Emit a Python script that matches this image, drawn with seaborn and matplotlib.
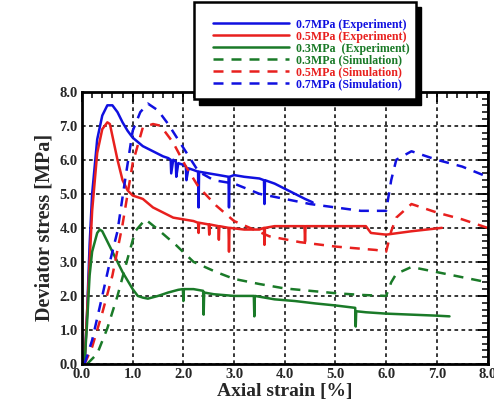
import numpy as np
import pandas as pd
import seaborn as sns
import matplotlib
matplotlib.use("Agg")
import matplotlib.pyplot as plt
from matplotlib.patches import Rectangle
from matplotlib.ticker import MultipleLocator

# ---------------- data ----------------
blue_exp_x = [0.05, 0.1, 0.15, 0.2, 0.3, 0.4, 0.5, 0.6, 0.7, 0.8, 0.9, 1.0, 1.2, 1.4, 1.6, 1.7, 1.75, 1.76, 1.8,
              1.85, 1.86, 1.9, 2.0, 2.05, 2.06, 2.1, 2.2, 2.29, 2.3, 2.31, 2.5, 2.7, 2.89, 2.9, 2.91, 3.0, 3.2,
              3.5, 3.59, 3.6, 3.61, 3.8, 4.0, 4.2, 4.4, 4.55]
blue_exp_y = [0.0, 1.5, 3.5, 5.0, 6.6, 7.3, 7.6, 7.6, 7.4, 7.1, 6.85, 6.65, 6.4, 6.25, 6.1, 6.05, 6.0, 5.6, 6.0,
              5.95, 5.5, 5.9, 5.85, 5.8, 5.4, 5.75, 5.7, 5.65, 4.6, 5.65, 5.6, 5.55, 5.5, 4.6, 5.5, 5.55, 5.5,
              5.45, 5.4, 4.7, 5.4, 5.3, 5.15, 5.0, 4.85, 4.75]

red_exp_x = [0.05, 0.1, 0.15, 0.2, 0.3, 0.4, 0.5, 0.55, 0.6, 0.7, 0.8, 0.9, 1.0, 1.2, 1.4, 1.6, 1.8, 2.0, 2.2,
             2.29, 2.3, 2.31, 2.5, 2.51, 2.52, 2.69, 2.7, 2.71, 2.89, 2.9, 2.91, 3.2, 3.5, 3.59, 3.6, 3.61, 3.8,
             4.0, 4.39, 4.4, 4.41, 5.0, 5.6, 5.7, 6.0, 6.5, 7.1]
red_exp_y = [0.0, 1.5, 3.0, 4.5, 6.2, 6.9, 7.1, 7.05, 6.7, 6.0, 5.4, 5.1, 4.95, 4.85, 4.6, 4.45, 4.3, 4.25, 4.2,
             4.15, 3.85, 4.15, 4.1, 3.8, 4.1, 4.05, 3.65, 4.05, 4.0, 3.3, 4.0, 3.95, 3.95, 4.0, 3.5, 4.0, 4.05,
             4.05, 4.05, 3.6, 4.05, 4.05, 4.05, 3.85, 3.8, 3.9, 4.0]

green_exp_x = [0.05, 0.1, 0.15, 0.2, 0.3, 0.35, 0.4, 0.5, 0.6, 0.7, 0.8, 0.9, 1.0, 1.1, 1.2, 1.3, 1.5, 1.7, 1.9,
               1.99, 2.0, 2.01, 2.2, 2.39, 2.4, 2.41, 2.6, 3.0, 3.39, 3.4, 3.41, 3.8, 4.2, 4.6, 5.0, 5.39, 5.4,
               5.41, 5.6, 6.0, 6.5, 7.0, 7.25]
green_exp_y = [0.0, 1.2, 2.6, 3.3, 3.85, 3.95, 3.9, 3.6, 3.3, 3.0, 2.7, 2.45, 2.2, 2.0, 1.95, 1.92, 2.0, 2.1, 2.18,
               2.2, 1.85, 2.2, 2.2, 2.15, 1.45, 2.1, 2.05, 2.0, 2.0, 1.4, 2.0, 1.9, 1.85, 1.78, 1.72, 1.65, 1.1,
               1.55, 1.52, 1.48, 1.45, 1.42, 1.4]

green_sim_x = [0.1, 0.3, 0.5, 0.7, 0.9, 1.05, 1.25, 1.5, 1.85, 2.2, 2.65, 3.0, 3.5, 4.0, 4.5, 5.0, 5.5, 6.0, 6.1,
               6.2, 6.5, 7.0, 7.5, 8.0]
green_sim_y = [0.0, 0.3, 1.05, 2.0, 3.1, 3.9, 4.25, 3.95, 3.5, 3.0, 2.7, 2.5, 2.35, 2.22, 2.15, 2.08, 2.03, 2.0, 2.4,
               2.65, 2.85, 2.7, 2.55, 2.4]

red_sim_x = [0.05, 0.2, 0.4, 0.6, 0.8, 1.0, 1.2, 1.4, 1.55, 1.8, 2.05, 2.3, 2.65, 3.0, 3.7, 4.3, 5.0, 5.8, 6.0,
             6.1, 6.2, 6.5, 7.0, 7.5, 8.0]
red_sim_y = [0.0, 0.5, 1.5, 2.6, 4.1, 5.9, 6.95, 7.05, 7.0, 6.5, 5.8, 5.2, 4.65, 4.2, 3.75, 3.58, 3.45, 3.35, 3.3,
             3.9, 4.3, 4.7, 4.45, 4.25, 4.0]

blue_sim_x = [0.05, 0.2, 0.4, 0.55, 0.7, 0.85, 1.0, 1.15, 1.3, 1.5, 1.7, 2.0, 2.3, 2.6, 3.0, 3.5, 4.0, 4.5, 5.0,
              5.5, 6.0, 6.1, 6.2, 6.5, 7.0, 7.5, 8.0]
blue_sim_y = [0.0, 0.7, 2.0, 3.0, 3.9, 5.4, 6.85, 7.4, 7.65, 7.45, 7.05, 6.35, 5.65, 5.4, 5.3, 5.0, 4.85, 4.7, 4.6,
              4.5, 4.5, 5.4, 6.0, 6.25, 6.0, 5.8, 5.5]

labels = ["0.7MPa (Experiment)", "0.5MPa (Experiment)", "0.3MPa  (Experiment)",
          "0.3MPa (Simulation)", "0.5MPa (Simulation)", "0.7MPa (Simulation)"]
x_ticks = [0.0, 1.0, 2.0, 3.0, 4.0, 5.0, 6.0, 7.0, 8.0]
y_ticks = [0.0, 1.0, 2.0, 3.0, 4.0, 5.0, 6.0, 7.0, 8.0]

BLUE = "#1010e0"
RED = "#e8201e"
GREEN = "#1a7a28"

series = [
    (blue_exp_x, blue_exp_y, labels[0], BLUE, False),
    (red_exp_x, red_exp_y, labels[1], RED, False),
    (green_exp_x, green_exp_y, labels[2], GREEN, False),
    (green_sim_x, green_sim_y, labels[3], GREEN, True),
    (red_sim_x, red_sim_y, labels[4], RED, True),
    (blue_sim_x, blue_sim_y, labels[5], BLUE, True),
]

# ---------------- style ----------------
sns.set_style("white")
plt.rcParams["font.family"] = ["Liberation Serif", "DejaVu Serif"]
plt.rcParams["font.weight"] = "bold"

W, H = 494, 409
fig = plt.figure(figsize=(W / 100, H / 100), dpi=100)
ax = fig.add_axes([82 / W, 1 - 364 / H, (487.5 - 82) / W, (364 - 91.7) / H])

for xs, ys, lab, col, dashed in series:
    df = pd.DataFrame({"x": xs, "y": ys})
    sns.lineplot(data=df, x="x", y="y", sort=False, estimator=None, color=col, lw=1.8,
                 label=lab, ax=ax, legend=False)
    if dashed:
        ax.lines[-1].set_dashes((4.0, 3.2))

ax.set_xlim(0, 8)
ax.set_ylim(0, 8)
ax.set_xticks(x_ticks)
ax.set_yticks(y_ticks)
ax.set_xticklabels([f"{v:.1f}" for v in x_ticks], fontsize=10.5, fontweight="bold")
ax.set_yticklabels([f"{v:.1f}" for v in y_ticks], fontsize=10.5, fontweight="bold")
ax.xaxis.set_minor_locator(MultipleLocator(0.2))
ax.yaxis.set_minor_locator(MultipleLocator(0.2))
ax.tick_params(which="both", direction="in", top=True, right=True, color="black")
ax.tick_params(which="major", length=7, width=1.3, pad=3)
ax.tick_params(which="minor", length=4, width=1.1)
for s in ax.spines.values():
    s.set_linewidth(2.0)
    s.set_color("black")
ax.grid(True, which="major", color="black", linestyle=(0, (2.4, 2.2)), linewidth=1.1)

ax.set_xlabel("Axial strain [%]", fontsize=14, fontweight="bold", labelpad=1)
ax.set_ylabel("Deviator stress [MPa]", fontsize=14.5, fontweight="bold", labelpad=4)

# ---------------- legend with shadowed frame ----------------
handles = ax.lines[:6]
leg = fig.legend(handles, labels, loc="upper left", frameon=False,
                 bbox_to_anchor=(203 / W, 1 - 9 / H), bbox_transform=fig.transFigure,
                 labelspacing=0.0, handlelength=6.4, handletextpad=0.6,
                 borderpad=0.3, prop={"weight": "bold", "size": 8.6})
for txt, (_, _, _, col, _) in zip(leg.get_texts(), series):
    txt.set_color(col)
leg.set_zorder(10)

shadow = Rectangle((199 / W, 1 - 105 / H), (421 - 199) / W, (105 - 7) / H, transform=fig.transFigure,
                   facecolor="black", edgecolor="black", zorder=8)
frame = Rectangle((194 / W, 1 - 99 / H), (416 - 194) / W, (99 - 2) / H, transform=fig.transFigure,
                  facecolor="white", edgecolor="black", linewidth=1.8, zorder=9)
fig.add_artist(shadow)
fig.add_artist(frame)

fig.savefig("out.png", dpi=100)
